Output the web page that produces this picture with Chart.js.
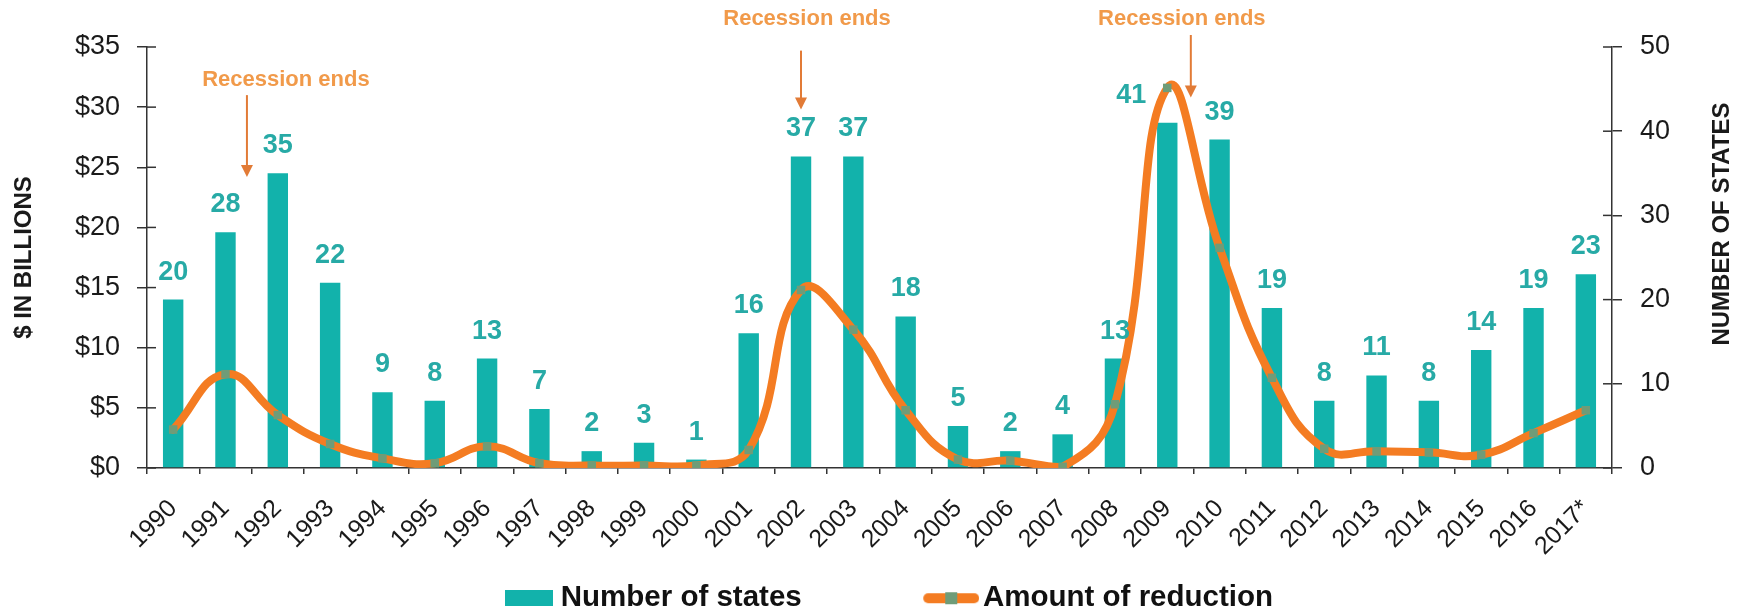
<!DOCTYPE html>
<html>
<head>
<meta charset="utf-8">
<script src="https://cdn.jsdelivr.net/npm/chart.js@4.4.1/dist/chart.umd.min.js"></script>
<style>
html,body{margin:0;padding:0;background:#ffffff;}
canvas{display:block;}
</style>
</head>
<body>
<canvas id="c" width="1745" height="613"></canvas>
<script>
// ---------- data ----------
const years = ['1990','1991','1992','1993','1994','1995','1996','1997','1998','1999','2000','2001','2002','2003','2004','2005','2006','2007','2008','2009','2010','2011','2012','2013','2014','2015','2016','2017*'];
const numberOfStates = [20,28,35,22,9,8,13,7,2,3,1,16,37,37,18,5,2,4,13,41,39,19,8,11,8,14,19,23];
const reductionBillions = [3.2,7.8,4.4,2.0,0.8,0.4,1.8,0.4,0.2,0.2,0.2,1.5,14.8,11.5,4.8,0.7,0.6,0.1,5.3,31.6,18.3,7.5,1.6,1.4,1.3,1.1,2.9,4.8];
const dollarTicks = [0,5,10,15,20,25,30,35];
const stateTicks = [0,10,20,30,40,50];
const seriesNames = ['Number of states','Amount of reduction'];
const annotationText = 'Recession ends';
const recessionEndAt = [1.41, 12.0, 19.45]; // position along the year axis (category index units)

// ---------- style ----------
const FONT = "'Liberation Sans', Arial, Helvetica, sans-serif";
const BAR = '#12b2ab';
const BAR_LABEL = '#27aaa6';
const LINE = '#f47c22';
const MARK = '#6f9c78';
const AXIS = '#333333';
const TEXT = '#1a1a1a';
const ANNO_TEXT = '#f19a4a';
const ANNO_ARROW = '#e27b36';

const W = 1745, H = 613;
const AREA = {left: 147, right: 1612, top: 47, bottom: 468};
const PAD_LEFT = 26;
const LEGEND_FONT = 29.5, LEGEND_PAD = 12, BOTTOM_PAD = -10;
const LEGEND_H = LEGEND_FONT + LEGEND_PAD + 10;
const LEGEND_GAP = '             '; // widens the first legend entry so the two entries sit apart

function legendSymbol(kind) {
  const c = document.createElement('canvas');
  const g = c.getContext('2d');
  if (kind === 'bar') {
    c.width = 62; c.height = 16;
    g.fillStyle = BAR;
    g.fillRect(14, 0, 48, 16);
  } else {
    c.width = 70; c.height = 24;
    g.strokeStyle = LINE; g.lineWidth = 10; g.lineCap = 'round';
    g.beginPath(); g.moveTo(19, 12); g.lineTo(65, 12); g.stroke();
    g.fillStyle = MARK; g.fillRect(36, 6, 12, 12);
  }
  return c;
}
const symBar = legendSymbol('bar');
const symLine = legendSymbol('line');

// draws the inner half of the crossing tick marks on the value axes
const crossTicks = {
  id: 'crossTicks',
  afterDraw(chart) {
    const {ctx, scales} = chart;
    ctx.save();
    ctx.strokeStyle = AXIS; ctx.lineWidth = 1.5;
    [['y', 1], ['y1', -1]].forEach(([id, dir]) => {
      const s = scales[id];
      const ax = id === 'y' ? s.right : s.left;
      s.ticks.forEach(t => {
        const py = s.getPixelForValue(t.value);
        ctx.beginPath(); ctx.moveTo(ax, py); ctx.lineTo(ax + dir * 9, py); ctx.stroke();
      });
    });
    ctx.restore();
  }
};

// value labels above bars
const barLabels = {
  id: 'barLabels',
  afterDatasetsDraw(chart, args, opts) {
    const meta = chart.getDatasetMeta(0);
    const vals = chart.data.datasets[0].data;
    const ctx = chart.ctx;
    ctx.save();
    ctx.font = opts.font; ctx.fillStyle = opts.color;
    ctx.textAlign = 'center'; ctx.textBaseline = 'alphabetic';
    meta.data.forEach((el, i) => {
      const dx = opts.shift[chart.data.labels[i]] || 0;
      ctx.fillText(String(vals[i]), el.x + dx, el.y - opts.gap);
    });
    ctx.restore();
  }
};

// "Recession ends" callouts
const recession = {
  id: 'recession',
  afterDatasetsDraw(chart, args, opts) {
    const {ctx, scales: {x, y}} = chart;
    ctx.save();
    opts.items.forEach((it, i) => {
      const px = x.getPixelForValue(recessionEndAt[i]);
      const yText = y.getPixelForValue(it.text);
      const y1 = y.getPixelForValue(it.from);
      const y2 = y.getPixelForValue(it.to);
      ctx.strokeStyle = ANNO_ARROW; ctx.fillStyle = ANNO_ARROW; ctx.lineWidth = 2;
      ctx.beginPath(); ctx.moveTo(px, y1); ctx.lineTo(px, y2 - 11); ctx.stroke();
      ctx.beginPath(); ctx.moveTo(px - 6, y2 - 12); ctx.lineTo(px + 6, y2 - 12); ctx.lineTo(px, y2); ctx.closePath(); ctx.fill();
      ctx.font = 'bold 22px ' + FONT; ctx.fillStyle = ANNO_TEXT;
      ctx.textAlign = 'center'; ctx.textBaseline = 'middle';
      ctx.fillText(annotationText, px + it.dx, yText);
    });
    ctx.restore();
  }
};

// right axis title reading bottom-to-top
const rightTitle = {
  id: 'rightTitle',
  afterDraw(chart, args, opts) {
    const ctx = chart.ctx;
    ctx.save();
    ctx.translate(opts.x, opts.y);
    ctx.rotate(-Math.PI / 2);
    ctx.font = 'bold 24px ' + FONT; ctx.fillStyle = TEXT;
    ctx.textAlign = 'center'; ctx.textBaseline = 'middle';
    ctx.fillText(opts.text, 0, 0);
    ctx.restore();
  }
};

new Chart(document.getElementById('c'), {
  type: 'bar',
  data: {
    labels: years,
    datasets: [
      {
        type: 'bar', label: seriesNames[0], data: numberOfStates, yAxisID: 'y1',
        backgroundColor: BAR, barPercentage: 0.39, categoryPercentage: 1.0, order: 2
      },
      {
        type: 'line', label: seriesNames[1], data: reductionBillions, yAxisID: 'y',
        borderColor: LINE, borderWidth: 8, tension: 0.45, fill: false,
        pointStyle: 'rect', pointRadius: 6, pointBackgroundColor: MARK, pointBorderWidth: 0,
        borderCapStyle: 'round', order: 1
      }
    ]
  },
  options: {
    responsive: false, animation: false, devicePixelRatio: 1,
    layout: {padding: {top: AREA.top, left: PAD_LEFT, right: 0, bottom: BOTTOM_PAD}},
    plugins: {
      tooltip: {enabled: false},
      legend: {
        position: 'bottom',
        labels: {
          usePointStyle: true, pointStyleWidth: 48, padding: LEGEND_PAD,
          color: '#111', font: {family: FONT, size: LEGEND_FONT, weight: 'bold'},
          generateLabels: () => [
            {text: seriesNames[0] + LEGEND_GAP, pointStyle: symBar, fillStyle: 'rgba(0,0,0,0)', strokeStyle: 'rgba(0,0,0,0)', lineWidth: 0, hidden: false, datasetIndex: 0, fontColor: '#111'},
            {text: seriesNames[1], pointStyle: symLine, fillStyle: 'rgba(0,0,0,0)', strokeStyle: 'rgba(0,0,0,0)', lineWidth: 0, hidden: false, datasetIndex: 1, fontColor: '#111'}
          ]
        }
      },
      barLabels: {font: 'bold 27px ' + FONT, color: BAR_LABEL, gap: 20, shift: {'2009': -36}},
      recession: {
        items: [
          {text: 32.3, from: 31.0, to: 24.2, dx: 39},
          {text: 37.3, from: 34.7, to: 29.8, dx: 6},
          {text: 37.3, from: 36.0, to: 30.8, dx: -9}
        ]
      },
      rightTitle: {text: 'NUMBER OF STATES', x: 1722, y: 224}
    },
    scales: {
      x: {
        offset: true,
        grid: {display: true, offset: true, drawOnChartArea: false, drawTicks: true, tickLength: 6, color: AXIS, lineWidth: 1.5},
        border: {display: true, color: AXIS, width: 1.5},
        ticks: {autoSkip: false, minRotation: 45, maxRotation: 45, padding: 20, color: TEXT, font: {family: FONT, size: 25}},
        afterFit: s => { s.height = H - BOTTOM_PAD - AREA.bottom - LEGEND_H; }
      },
      y: {
        position: 'left', min: 0, max: 35,
        afterBuildTicks: s => { s.ticks = dollarTicks.map(v => ({value: v})); },
        grid: {display: true, drawOnChartArea: false, drawTicks: true, tickLength: 10, color: AXIS, lineWidth: 1.5},
        border: {display: true, color: AXIS, width: 1.5},
        ticks: {padding: 17, color: TEXT, font: {family: FONT, size: 27}, callback: v => '$' + v},
        title: {display: true, text: '$ IN BILLIONS', color: TEXT, font: {family: FONT, size: 24, weight: 'bold'}, padding: {top: 10 - PAD_LEFT, bottom: 0}},
        afterFit: s => { s.width = AREA.left - PAD_LEFT; }
      },
      y1: {
        position: 'right', min: 0, max: 50,
        afterBuildTicks: s => { s.ticks = stateTicks.map(v => ({value: v})); },
        grid: {display: true, drawOnChartArea: false, drawTicks: true, tickLength: 10, color: AXIS, lineWidth: 1.5},
        border: {display: true, color: AXIS, width: 1.5},
        ticks: {padding: 18, color: TEXT, font: {family: FONT, size: 27}},
        afterFit: s => { s.width = W - AREA.right; }
      }
    }
  },
  plugins: [barLabels, recession, crossTicks, rightTitle]
});
</script>
</body>
</html>
